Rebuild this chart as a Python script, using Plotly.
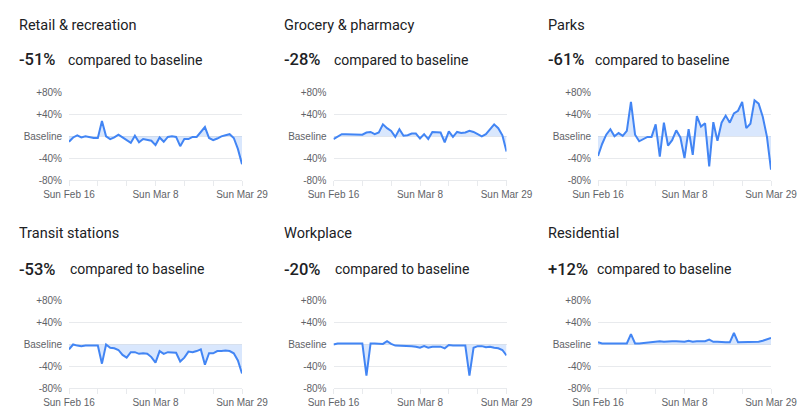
import pandas as pd
import plotly.graph_objects as go

dates = pd.date_range("2020-02-16", "2020-03-29", freq="D")

titles = ["Retail & recreation", "Grocery & pharmacy", "Parks",
          "Transit stations", "Workplace", "Residential"]
headline = ["-51%", "-28%", "-61%", "-53%", "-20%", "+12%"]

retail = [-10, -2, 2, -2, 0, -2, -3, -3, 28, 0, -5, -2, 3, -2, -7, -12, 1, -11, -5, -6, -8,
          -16, -2, -10, -1, 0, -1, -18, -5, -5, -1, -1, 7, 17, -3, -7, -4, 0, 2, 4, -3, -23, -51]
grocery = [-5, 0, 4, 4, 4, 3, 3, 3, 7, 8, 4, 7, 22, 15, 10, -1, 13, 1, 2, 5, 5,
           -4, 4, -5, 8, 7, 7, -11, 9, -1, 8, 6, 7, 10, 8, 4, 0, 4, 12, 22, 15, 2, -28]
parks = [-36, -14, 3, 13, 0, 6, 1, 10, 63, 3, -9, -5, -1, -1, 22, -37, 25, -17, -7, 11, -2,
         -40, 13, -34, 37, 18, 24, -55, 26, -8, 25, 38, 25, 42, 47, 63, 15, 23, 66, 60, 36, 0, -61]
transit = [-9, 0, -2, -3, -2, -2, -2, -2, -35, 0, -6, -7, -10, -19, -24, -14, -14, -17, -16, -17, -23,
           -33, -12, -17, -14, -14, -15, -31, -24, -13, -14, -12, -9, -37, -16, -16, -12, -12, -11, -12, -16, -29, -53]
workplace = [0, 2, 2, 2, 2, 2, 2, 2, -57, 2, 2, 2, 1, 6, 1, -2, -2, -3, -3, -3, -4,
             -6, -3, -6, -4, -4, -4, -7, -1, -2, -2, -2, -2, -57, -6, -3, -3, -5, -4, -6, -7, -10, -20]
residential = [4, 2, 2, 2, 2, 2, 2, 2, 19, 2, 2, 3, 4, 4, 5, 6, 5, 6, 6, 6, 6,
               5, 7, 5, 6, 6, 6, 9, 5, 5, 4, 4, 4, 21, 4, 4, 5, 4, 4, 5, 7, 10, 12]
series = [retail, grocery, parks, transit, workplace, residential]

y_tickvals = [80, 40, 0, -40, -80]
y_ticktext = ["+80%", "+40%", "Baseline", "-40%", "-80%"]
x_tickvals = pd.date_range("2020-02-16", "2020-03-29", freq="7D")
x_ticktext = ["Sun Feb 16", "", "", "Sun Mar 8", "", "", "Sun Mar 29"]

W, H = 800, 416
col_x = [(69, 242), (333.5, 506.5), (598, 771)]
row_y = [(92.7, 180), (300.7, 388.3)]
text_left = [17, 281.5, 546]
cmp_left = [[65.5, 331.5, 593], [67.5, 333, 595]]
title_y = [25, 233]
num_y = [60, 269]

LINE = "#4285f4"
FILL = "rgba(66,133,244,0.2)"
GRID = "#e8eaed"
TICKC = "#5f6368"
DARK = "#202124"

fig = go.Figure()
annotations = []
layout_axes = {}
for i in range(6):
    r, c = divmod(i, 3)
    n = i + 1
    xa = "x" if n == 1 else f"x{n}"
    ya = "y" if n == 1 else f"y{n}"
    fig.add_trace(go.Scatter(
        x=dates, y=series[i], mode="lines", xaxis=xa, yaxis=ya,
        line=dict(color=LINE, width=2), fill="tozeroy", fillcolor=FILL,
        hoverinfo="skip", showlegend=False))
    x0, x1 = col_x[c]
    yt, yb = row_y[r]
    layout_axes[f"xaxis{'' if n == 1 else n}"] = dict(
        domain=[x0 / W, x1 / W], anchor=ya, automargin=False,
        range=[dates[0], dates[-1]], tickvals=x_tickvals, ticktext=x_ticktext,
        showgrid=False, zeroline=False, showline=True, linecolor=GRID, linewidth=1,
        ticks="outside", ticklen=5, tickcolor=GRID, tickwidth=1,
        tickfont=dict(family="Liberation Sans, Arial", size=10, color=TICKC),
        fixedrange=True)
    layout_axes[f"yaxis{'' if n == 1 else n}"] = dict(
        domain=[1 - yb / H, 1 - yt / H], anchor=xa, automargin=False,
        range=[-80, 80], tickvals=y_tickvals, ticktext=y_ticktext,
        showgrid=True, gridcolor=GRID, gridwidth=1, zeroline=False, showline=False,
        ticks="", ticklabelstandoff=6,
        tickfont=dict(family="Liberation Sans, Arial", size=10, color=TICKC),
        fixedrange=True)
    annotations.append(dict(
        text=titles[i], xref="paper", yref="paper", x=text_left[c] / W, y=1 - title_y[r] / H,
        xanchor="left", yanchor="middle", showarrow=False,
        font=dict(family="Roboto", size=14.5, color=DARK)))
    annotations.append(dict(
        text=headline[i], xref="paper", yref="paper", x=text_left[c] / W, y=1 - num_y[r] / H,
        xanchor="left", yanchor="middle", showarrow=False,
        font=dict(family="Roboto", size=16.5, color=DARK, weight=500)))
    annotations.append(dict(
        text="compared to baseline", xref="paper", yref="paper",
        x=cmp_left[r][c] / W, y=1 - num_y[r] / H,
        xanchor="left", yanchor="middle", showarrow=False,
        font=dict(family="Roboto", size=14, color=DARK)))

fig.update_layout(
    width=W, height=H, margin=dict(l=0, r=0, t=0, b=0, autoexpand=False),
    paper_bgcolor="white", plot_bgcolor="white",
    annotations=annotations, **layout_axes)

fig.write_html("out.html", config={"displayModeBar": False})
